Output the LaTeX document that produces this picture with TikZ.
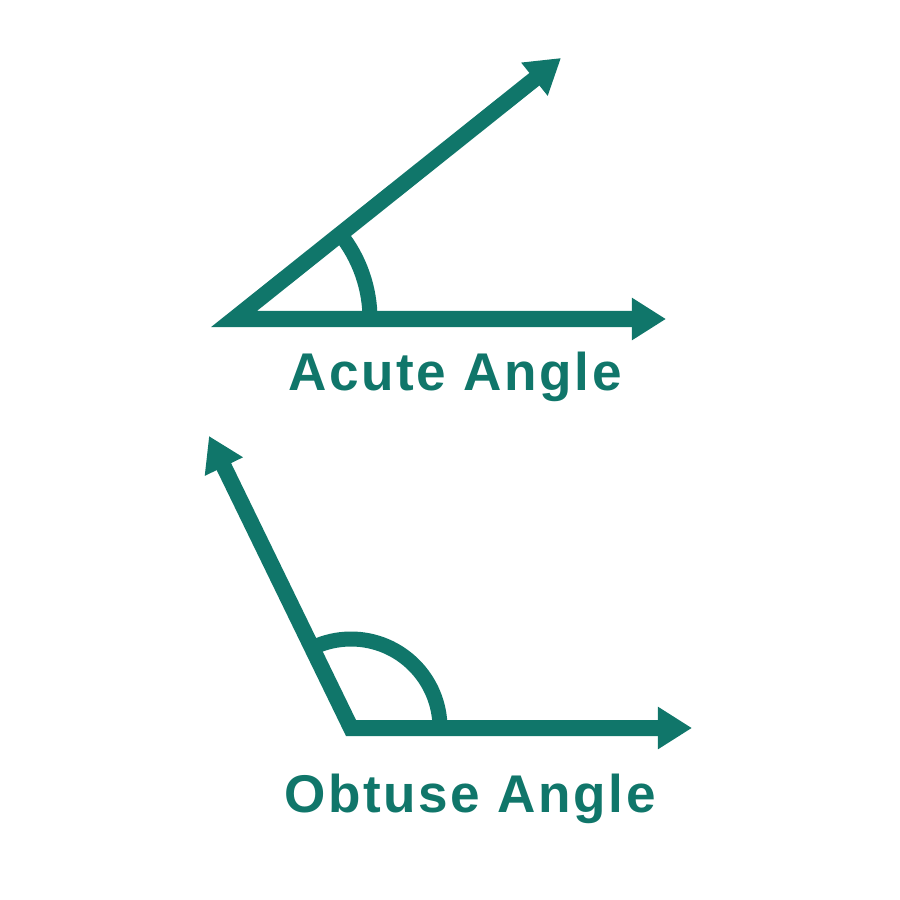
\documentclass[tikz,border=0pt]{standalone}
\usepackage{fontspec}
\setmainfont{Liberation Sans}
\newfontfamily\anglefont[LetterSpace=5]{Liberation Sans}
\usetikzlibrary{arrows.meta}
\definecolor{tealgreen}{RGB}{16,118,106}
\tikzset{
    ray/.style={tealgreen, line width=0.16cm, line join=miter,
        {Triangle[length=0.34cm,width=0.40cm]}-{Triangle[length=0.34cm,width=0.40cm]}},
    anglearc/.style={tealgreen, line width=0.15cm},
    anglelabel/.style={tealgreen, anchor=base, inner sep=0pt,
        font=\anglefont\bfseries\fontsize{15.1}{18}\selectfont}
}
\begin{document}
\begin{tikzpicture}[x=0.01cm,y=-0.01cm]
        \useasboundingbox (0,0) rectangle (900,900);

        % acute angle
        \coordinate (av) at (234,319);
        \coordinate (aup) at (561,58);
        \coordinate (aright) at (666,319);
        \draw[anglearc] (av) ++(136,0) arc[start angle=0, end angle=-38.6, radius=136];
        \draw[ray] (aup) -- (av) -- (aright);
        \node[anglelabel] (acute) at (455,390) {Acute Angle};

        % obtuse angle
        \coordinate (ov) at (351,728);
        \coordinate (oup) at (209,436);
        \coordinate (oright) at (692,728);
        \draw[anglearc] (ov) ++(89,0) arc[start angle=0, end angle=-115.9, radius=89];
        \draw[ray] (oup) -- (ov) -- (oright);
        \node[anglelabel] (obtuse) at (470,812) {Obtuse Angle};
    \end{tikzpicture}
\end{document}
